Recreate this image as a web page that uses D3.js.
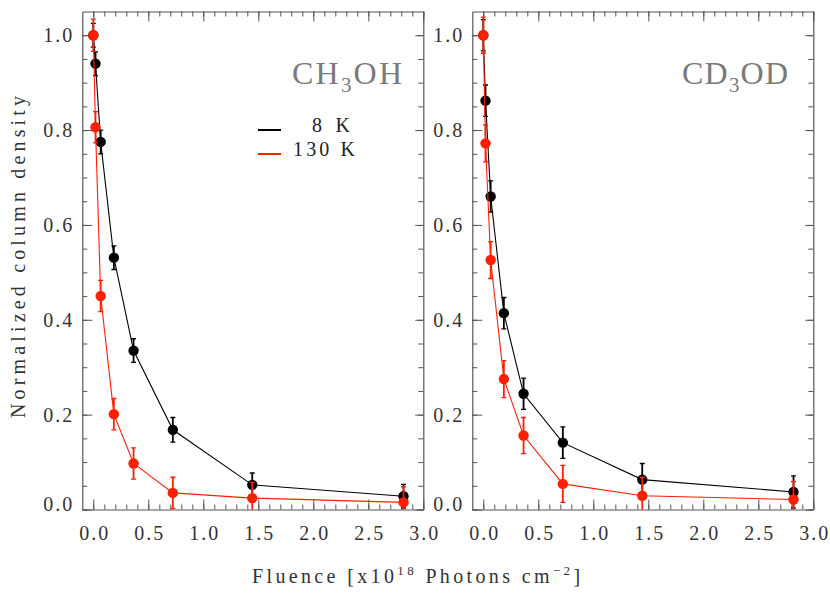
<!DOCTYPE html>
<html><head><meta charset="utf-8">
<script src="https://cdn.jsdelivr.net/npm/d3@7/dist/d3.min.js"></script>
<style>body{margin:0;background:#fff} svg{display:block}</style>
</head><body>
<svg id="chart" width="830" height="593"></svg>
<script>
// ---------- data ----------
const fluence      = [0, 0.02, 0.067, 0.187, 0.366, 0.723, 1.445, 2.82];
const ch3oh8K      = [1.0, 0.94, 0.775, 0.531, 0.335, 0.168, 0.052, 0.028];
const ch3oh8KErr   = [0.025, 0.025, 0.025, 0.025, 0.025, 0.026, 0.025, 0.025];
const ch3oh130K    = [1.0, 0.806, 0.45, 0.201, 0.097, 0.035, 0.024, 0.015];
const ch3oh130KErr = [0.034, 0.033, 0.033, 0.033, 0.033, 0.033, 0.033, 0.033];
const cd3od8K      = [1.0, 0.862, 0.66, 0.414, 0.244, 0.141, 0.063, 0.037];
const cd3od8KErr   = [0.033, 0.033, 0.033, 0.033, 0.033, 0.033, 0.034, 0.034];
const cd3od130K    = [1.0, 0.772, 0.526, 0.275, 0.156, 0.054, 0.029, 0.021];
const cd3od130KErr = [0.038, 0.039, 0.039, 0.039, 0.038, 0.039, 0.039, 0.038];
const xTickValues  = [0, 0.5, 1.0, 1.5, 2.0, 2.5, 3.0];
const yTickValues  = [0, 0.2, 0.4, 0.6, 0.8, 1.0];
const seriesNames  = ["8 K", "130 K"];
const seriesColors = ["#000000", "#ff1e00"];

const svg = d3.select("#chart");
const FONT = "'Liberation Serif','DejaVu Serif',serif";
const TOP = 11.5, BOTTOM = 509.5, WIDTH = 341;

function fitText(sel, target) {
  const node = sel.node();
  const n = node.textContent.length;
  const w = node.getComputedTextLength();
  if (n > 1) sel.attr("letter-spacing", ((target - w) / (n - 1)).toFixed(2));
}

const panels = [
  {title: ["CH", "3", "OH"], left: 82.3, titleX: 292, titleW: 110,
   series: [[ch3oh8K, ch3oh8KErr], [ch3oh130K, ch3oh130KErr]], legend: true},
  {title: ["CD", "3", "OD"], left: 472.3, titleX: 682, titleW: 106,
   series: [[cd3od8K, cd3od8KErr], [cd3od130K, cd3od130KErr]], legend: false}
];

panels.forEach((p, pi) => {
  const x = d3.scaleLinear().domain([-0.1, 3.0]).range([p.left, p.left + WIDTH]);
  const y = d3.scaleLinear().domain([0, 1.05]).range([BOTTOM, TOP]);
  const g = svg.append("g");

  // minor ticks
  const xMinor = d3.range(0, 31).map(d => d / 10);
  const yMinor = d3.range(0, 21).map(d => d / 20);
  const minorStyle = a => a.call(s => s.selectAll("text").remove())
                          .call(s => s.select(".domain").remove())
                          .call(s => s.selectAll("line").attr("stroke", "#555"));
  g.append("g").attr("transform", `translate(0,${BOTTOM})`)
    .call(d3.axisBottom(x).tickValues(xMinor).tickSize(-5)).call(minorStyle);
  g.append("g").attr("transform", `translate(0,${TOP})`)
    .call(d3.axisTop(x).tickValues(xMinor).tickSize(-5)).call(minorStyle);
  g.append("g").attr("transform", `translate(${p.left},0)`)
    .call(d3.axisLeft(y).tickValues(yMinor).tickSize(-5)).call(minorStyle);
  g.append("g").attr("transform", `translate(${p.left + WIDTH},0)`)
    .call(d3.axisRight(y).tickValues(yMinor).tickSize(-5)).call(minorStyle);

  // major ticks
  const styleAxis = a => {
    a.selectAll("path.domain").attr("stroke", "#555").attr("stroke-width", 1.2);
    a.selectAll("line").attr("stroke", "#555");
    a.selectAll("text").attr("fill", "#333").attr("font-family", FONT)
      .attr("font-size", 20).attr("letter-spacing", 2);
  };
  const xb = g.append("g").attr("transform", `translate(0,${BOTTOM})`)
    .call(d3.axisBottom(x).tickValues(xTickValues).tickSize(-10).tickSizeOuter(0)
      .tickPadding(16).tickFormat(d3.format(".1f")));
  styleAxis(xb); xb.selectAll("text").attr("dx", 1);
  const xt = g.append("g").attr("transform", `translate(0,${TOP})`)
    .call(d3.axisTop(x).tickValues(xTickValues).tickSize(-10).tickSizeOuter(0).tickFormat(""));
  styleAxis(xt);
  const yl = g.append("g").attr("transform", `translate(${p.left},0)`)
    .call(d3.axisLeft(y).tickValues(yTickValues).tickSize(-10).tickSizeOuter(0)
      .tickPadding(8).tickFormat(d3.format(".1f")));
  styleAxis(yl);
  yl.selectAll(".tick").filter(d => d === 0).select("text").attr("y", -5);
  const yr = g.append("g").attr("transform", `translate(${p.left + WIDTH},0)`)
    .call(d3.axisRight(y).tickValues(yTickValues).tickSize(-8).tickSizeOuter(0).tickFormat(""));
  styleAxis(yr);

  // clip
  const clipId = "clip" + pi;
  svg.append("clipPath").attr("id", clipId).append("rect")
    .attr("x", p.left).attr("y", TOP).attr("width", WIDTH).attr("height", BOTTOM - TOP);
  const plot = g.append("g").attr("clip-path", `url(#${clipId})`);

  const line = d3.line().x(d => x(d[0])).y(d => y(d[1]));
  p.series.forEach(([vals, errs], si) => {
    const col = seriesColors[si];
    const pts = fluence.map((f, i) => [f, vals[i], errs[i]]);
    const sg = plot.append("g");
    sg.append("path").datum(pts).attr("d", line)
      .attr("fill", "none").attr("stroke", col).attr("stroke-width", 1.1);
    const eb = sg.selectAll("g.eb").data(pts).join("g").attr("class", "eb");
    eb.append("line").attr("x1", d => x(d[0])).attr("x2", d => x(d[0]))
      .attr("y1", d => y(d[1] - d[2])).attr("y2", d => y(d[1] + d[2]))
      .attr("stroke", col).attr("stroke-width", 1.8);
    [-1, 1].forEach(sgn => {
      eb.append("line").attr("x1", d => x(d[0]) - 2.5).attr("x2", d => x(d[0]) + 2.5)
        .attr("y1", d => y(d[1] + sgn * d[2])).attr("y2", d => y(d[1] + sgn * d[2]))
        .attr("stroke", col).attr("stroke-width", 1.3);
    });
    sg.selectAll("circle").data(pts).join("circle")
      .attr("cx", d => x(d[0])).attr("cy", d => y(d[1])).attr("r", 5.2).attr("fill", col);
  });

  // panel title
  const t = svg.append("text").attr("x", p.titleX).attr("y", 84)
    .attr("font-family", FONT).attr("font-size", 32).attr("fill", "#7a7a7a");
  t.append("tspan").text(p.title[0]);
  t.append("tspan").attr("font-size", 21).attr("dy", 8).text(p.title[1]);
  t.append("tspan").attr("dy", -8).text(p.title[2]);
  fitText(t, p.titleW);

  // legend
  if (p.legend) {
    const legY = [130, 154], legTextX = [312, 293], legW = [38, 62];
    seriesNames.forEach((nm, i) => {
      svg.append("line").attr("x1", 258).attr("x2", 281).attr("y1", legY[i]).attr("y2", legY[i])
        .attr("stroke", seriesColors[i]).attr("stroke-width", 2);
      const lt = svg.append("text").attr("x", legTextX[i]).attr("y", legY[i] + 1.5)
        .attr("font-family", FONT).attr("font-size", 20).attr("fill", "#222").text(nm);
      fitText(lt, legW[i]);
    });
  }
});

// axis titles
const yt = svg.append("text").attr("transform", "translate(25,418) rotate(-90)")
  .attr("font-family", FONT).attr("font-size", 20).attr("fill", "#333")
  .text("Normalized column density");
fitText(yt, 322);

const xt = svg.append("text").attr("x", 252).attr("y", 583)
  .attr("font-family", FONT).attr("font-size", 20).attr("fill", "#333");
xt.append("tspan").text("Fluence [x10");
xt.append("tspan").attr("font-size", 13).attr("dy", -8).text("18");
xt.append("tspan").attr("dy", 8).text(" Photons cm");
xt.append("tspan").attr("font-size", 13).attr("dy", -8).text("\u22122");
xt.append("tspan").attr("dy", 8).text("]");
fitText(xt, 328);
</script>
</body></html>
